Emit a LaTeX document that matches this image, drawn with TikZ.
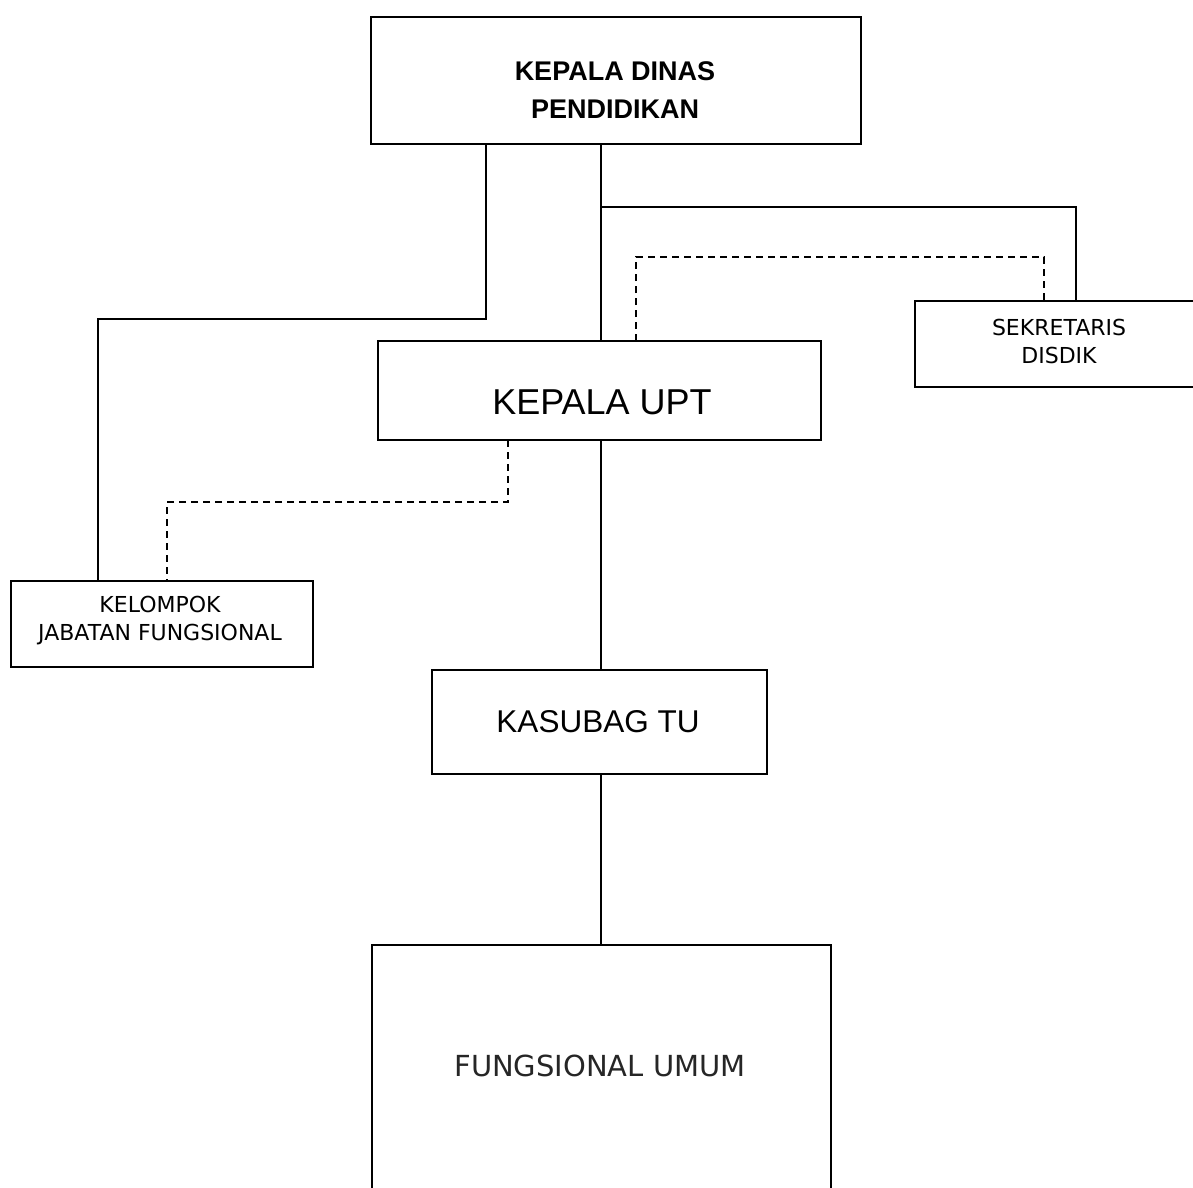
\documentclass[tikz,border=0pt]{standalone}
\usepackage{fontspec}
\setmainfont{Liberation Sans}
\newfontfamily\dvfont{DejaVu Sans}
\begin{document}
\begin{tikzpicture}[x=1pt,y=-1pt,
  box/.style={draw=black,line width=1.8pt,inner sep=0pt,outer sep=0pt,fill=white},
  lbl/.style={inner sep=0pt,align=center,text=black},
  conn/.style={draw=black,line width=1.8pt},
  dashconn/.style={draw=black,line width=1.8pt,dash pattern=on 7pt off 5pt}]
\useasboundingbox (0,0) rectangle (1193,1187);
\clip (0,0) rectangle (1193,1187);
\fill[white] (0,0) rectangle (1193,1187);

% coordinates for elbows
\coordinate (e1) at (486,319);
\coordinate (e2) at (98,319);
\coordinate (e3) at (601,207);
\coordinate (e4) at (1076,207);
\coordinate (d1) at (636,257);
\coordinate (d2) at (1044,257);
\coordinate (d3) at (508,502);
\coordinate (d4) at (167,502);

% boxes
\node[box,minimum width=490pt,minimum height=127pt] (kd) at (616,80.5) {};
\node[box,minimum width=443pt,minimum height=99pt] (upt) at (599.5,390.5) {};
\node[box,minimum width=290pt,minimum height=86pt] (sek) at (1060,344) {};
\node[box,minimum width=302pt,minimum height=86pt] (kjf) at (162,624) {};
\node[box,minimum width=335pt,minimum height=104pt] (ks) at (599.5,722) {};
\node[box,minimum width=459pt,minimum height=300pt] (fu) at (601.5,1095) {};

% connectors
\draw[conn] (kd.south -| e1) -- (e1) -- (e2) -- (kjf.north -| e2);
\draw[conn] (kd.south -| e3) -- (upt.north -| e3);
\draw[conn] (e3) -- (e4) -- (sek.north -| e4);
\draw[dashconn] (upt.north -| d1) -- (d1) -- (d2) -- (sek.north -| d2);
\draw[dashconn] (upt.south -| d3) -- (d3) -- (d4) -- (kjf.north -| d4);
\draw[conn] (upt.south -| e3) -- (ks.north -| e3);
\draw[conn] (ks.south -| e3) -- (fu.north -| e3);

% texts
\node[lbl,font=\fontsize{27}{38}\selectfont\bfseries] (kdt) at (615,90) {KEPALA DINAS\\PENDIDIKAN};
\node[lbl,font=\fontsize{36}{40}\selectfont] (uptt) at (602,402) {KEPALA UPT};
\node[lbl,font=\dvfont\fontsize{22}{28}\selectfont] (sekt) at (1059,341.5) {SEKRETARIS\\DISDIK};
\node[lbl,font=\dvfont\fontsize{22}{28}\selectfont] (kjft) at (160,620.5) {KELOMPOK\\JABATAN FUNGSIONAL};
\node[lbl,font=\fontsize{31.5}{36}\selectfont] (kst) at (598,722) {KASUBAG TU};
\node[lbl,font=\dvfont\fontsize{29}{34}\selectfont,text=black!85] (fut) at (600,1066) {FUNGSIONAL UMUM};
\end{tikzpicture}
\end{document}
